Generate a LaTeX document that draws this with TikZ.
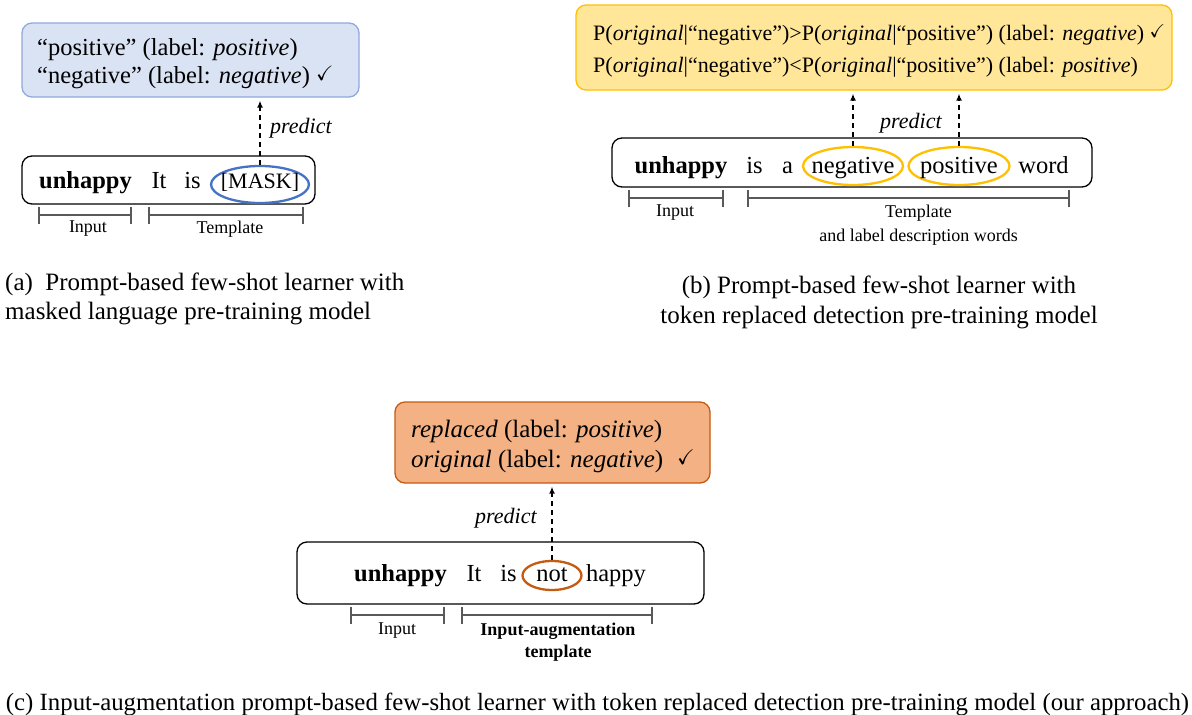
\documentclass[tikz,border=0pt]{standalone}
\usepackage{fontspec}
\setmainfont{Liberation Serif}
\usepackage{amssymb}
\usetikzlibrary{shapes.geometric,arrows.meta}
\definecolor{bfill}{HTML}{DAE3F3}
\definecolor{bline}{HTML}{8FAADC}
\definecolor{bell}{HTML}{4472C4}
\definecolor{yfill}{HTML}{FFE699}
\definecolor{yline}{HTML}{FFC000}
\definecolor{ofill}{HTML}{F4B183}
\definecolor{oline}{HTML}{C55A11}
\definecolor{brk}{HTML}{595959}
\newcommand{\ck}{\raisebox{0.1em}{\scalebox{0.85}{$\checkmark$}}}
\newcommand{\brak}[2]{\draw[brkline] (#1) ++(0,-8.5) -- ++(0,17) (#1) -- (#2) (#2) ++(0,-8.5) -- ++(0,17);}
\begin{document}
\begin{tikzpicture}[x=1pt,y=-1pt,
  panel/.style={draw, rounded corners=10pt, line width=1.3pt, inner sep=0pt},
  word/.style={font=\fontsize{24.5}{29}\selectfont, inner sep=0pt, anchor=base},
  outtext/.style={font=\fontsize{#1}{29}\selectfont, inner sep=0pt, anchor=base west},
  lbl/.style={font=\fontsize{18}{22}\selectfont, inner sep=0pt, align=center},
  predlbl/.style={font=\fontsize{22}{26}\selectfont\itshape, inner sep=0pt, anchor=west},
  hl/.style={draw, ellipse, line width=2.3pt, inner sep=0pt},
  pred/.style={-{Latex[length=7pt,width=6pt]}, dashed, dash pattern=on 5pt off 4pt, line width=1.5pt, shorten >=3pt},
  brkline/.style={draw=brk, line width=1.3pt},
  captxt/.style={font=\fontsize{25}{30}\selectfont, inner sep=0pt}
]
\useasboundingbox (0,0) rectangle (1192,715);
\fill[white] (0,0) rectangle (1192,715);

% ---------------- panel (a)
\node[panel, fill=bfill, draw=bline, minimum width=337pt, minimum height=74pt] (outA) at (190.5,60) {};
\node[outtext=24.5] (outA1) at (37,55) {“positive” (label: \textit{positive})};
\node[outtext=24.5] (outA2) at (37,83) {“negative” (label: \textit{negative}) \ck};
\node[panel, fill=white, minimum width=293pt, minimum height=48pt] (inA) at (168.5,180) {};
\node[hl, draw=bell, minimum width=98pt, minimum height=37pt] (maskE) at (260,184.5) {};
\node[word] (wA1) at (85.5,188) {\textbf{unhappy}};
\node[word] (wA2) at (159,188) {It};
\node[word] (wA3) at (192.5,188) {is};
\node[word, font=\fontsize{22}{26}\selectfont] (wA4) at (260,188) {[MASK]};
\draw[pred] (maskE.north) -- (maskE.north |- outA.south);
\node[predlbl] (pA) at (270,128) {predict};
\coordinate (iaL) at (39,215); \coordinate (iaR) at (131,215);
\coordinate (taL) at (149,215); \coordinate (taR) at (303,215);
\brak{iaL}{iaR}
\brak{taL}{taR}
\node[lbl] (lA1) at (88,229) {Input};
\node[lbl] (lA2) at (230,229) {Template};
\node[captxt, anchor=base west] (cA1) at (5,290) {(a)\ \ Prompt-based few-shot learner with};
\node[captxt, anchor=base west] (cA2) at (5,319) {masked language pre-training model};

% ---------------- panel (b)
\node[panel, fill=yfill, draw=yline, minimum width=596pt, minimum height=85pt] (outB) at (874,47.5) {};
\node[outtext=22] (outB1) at (593,40) {P(\textit{original}|“negative”)>P(\textit{original}|“positive”) (label: \textit{negative}) \ck};
\node[outtext=22] (outB2) at (593,72) {P(\textit{original}|“negative”)<P(\textit{original}|“positive”) (label: \textit{positive})};
\node[panel, fill=white, minimum width=480pt, minimum height=49pt] (inB) at (852,162.5) {};
\node[hl, draw=yline, minimum width=100pt, minimum height=38pt] (negE) at (853,166) {};
\node[hl, draw=yline, minimum width=101pt, minimum height=38pt] (posE) at (959,166) {};
\node[word] (wB1) at (681,173) {\textbf{unhappy}};
\node[word] (wB2) at (754.5,173) {is};
\node[word] (wB3) at (787.5,173) {a};
\node[word] (wB4) at (853,173) {negative};
\node[word] (wB5) at (959,173) {positive};
\node[word] (wB6) at (1043.5,173) {word};
\draw[pred] (negE.north) -- (negE.north |- outB.south);
\draw[pred] (posE.north) -- (posE.north |- outB.south);
\node[predlbl] (pB) at (880,123) {predict};
\coordinate (ibL) at (629,198); \coordinate (ibR) at (723,198);
\coordinate (tbL) at (748,198); \coordinate (tbR) at (1069,198);
\brak{ibL}{ibR}
\brak{tbL}{tbR}
\node[lbl] (lB1) at (675,213) {Input};
\node[lbl, font=\fontsize{18}{24}\selectfont] (lB2) at (918.5,225) {Template\\and label description words};
\node[captxt, anchor=base] (cB1) at (879,293) {(b) Prompt-based few-shot learner with};
\node[captxt, anchor=base] (cB2) at (879,323) {token replaced detection pre-training model};

% ---------------- panel (c)
\node[panel, fill=ofill, draw=oline, minimum width=315pt, minimum height=81pt] (outC) at (552.5,442.5) {};
\node[outtext=25] (outC1) at (411,437) {\textit{replaced} (label: \textit{positive})};
\node[outtext=25] (outC2) at (411,467) {\textit{original} (label: \textit{negative})\hspace{14pt}\ck};
\node[panel, fill=white, minimum width=407pt, minimum height=62pt] (inC) at (500.5,573) {};
\node[hl, draw=oline, minimum width=59pt, minimum height=29pt] (notE) at (552,575.5) {};
\node[word] (wC1) at (400.5,581.5) {\textbf{unhappy}};
\node[word] (wC2) at (474,581.5) {It};
\node[word] (wC3) at (508.5,581.5) {is};
\node[word] (wC4) at (552,581.5) {not};
\node[word] (wC5) at (616,581.5) {happy};
\draw[pred] (notE.north) -- (notE.north |- outC.south);
\node[predlbl] (pC) at (475,518) {predict};
\coordinate (icL) at (351,615); \coordinate (icR) at (444,615);
\coordinate (tcL) at (462,615); \coordinate (tcR) at (652,615);
\brak{icL}{icR}
\brak{tcL}{tcR}
\node[lbl] (lC1) at (397,631) {Input};
\node[lbl, font=\fontsize{18}{22}\selectfont\bfseries] (lC2) at (558,642) {Input-augmentation\\template};
\node[captxt, anchor=base, font=\fontsize{24.8}{30}\selectfont] (cC) at (597.5,710) {(c) Input-augmentation prompt-based few-shot learner with token replaced detection pre-training model (our approach)};
\end{tikzpicture}
\end{document}
